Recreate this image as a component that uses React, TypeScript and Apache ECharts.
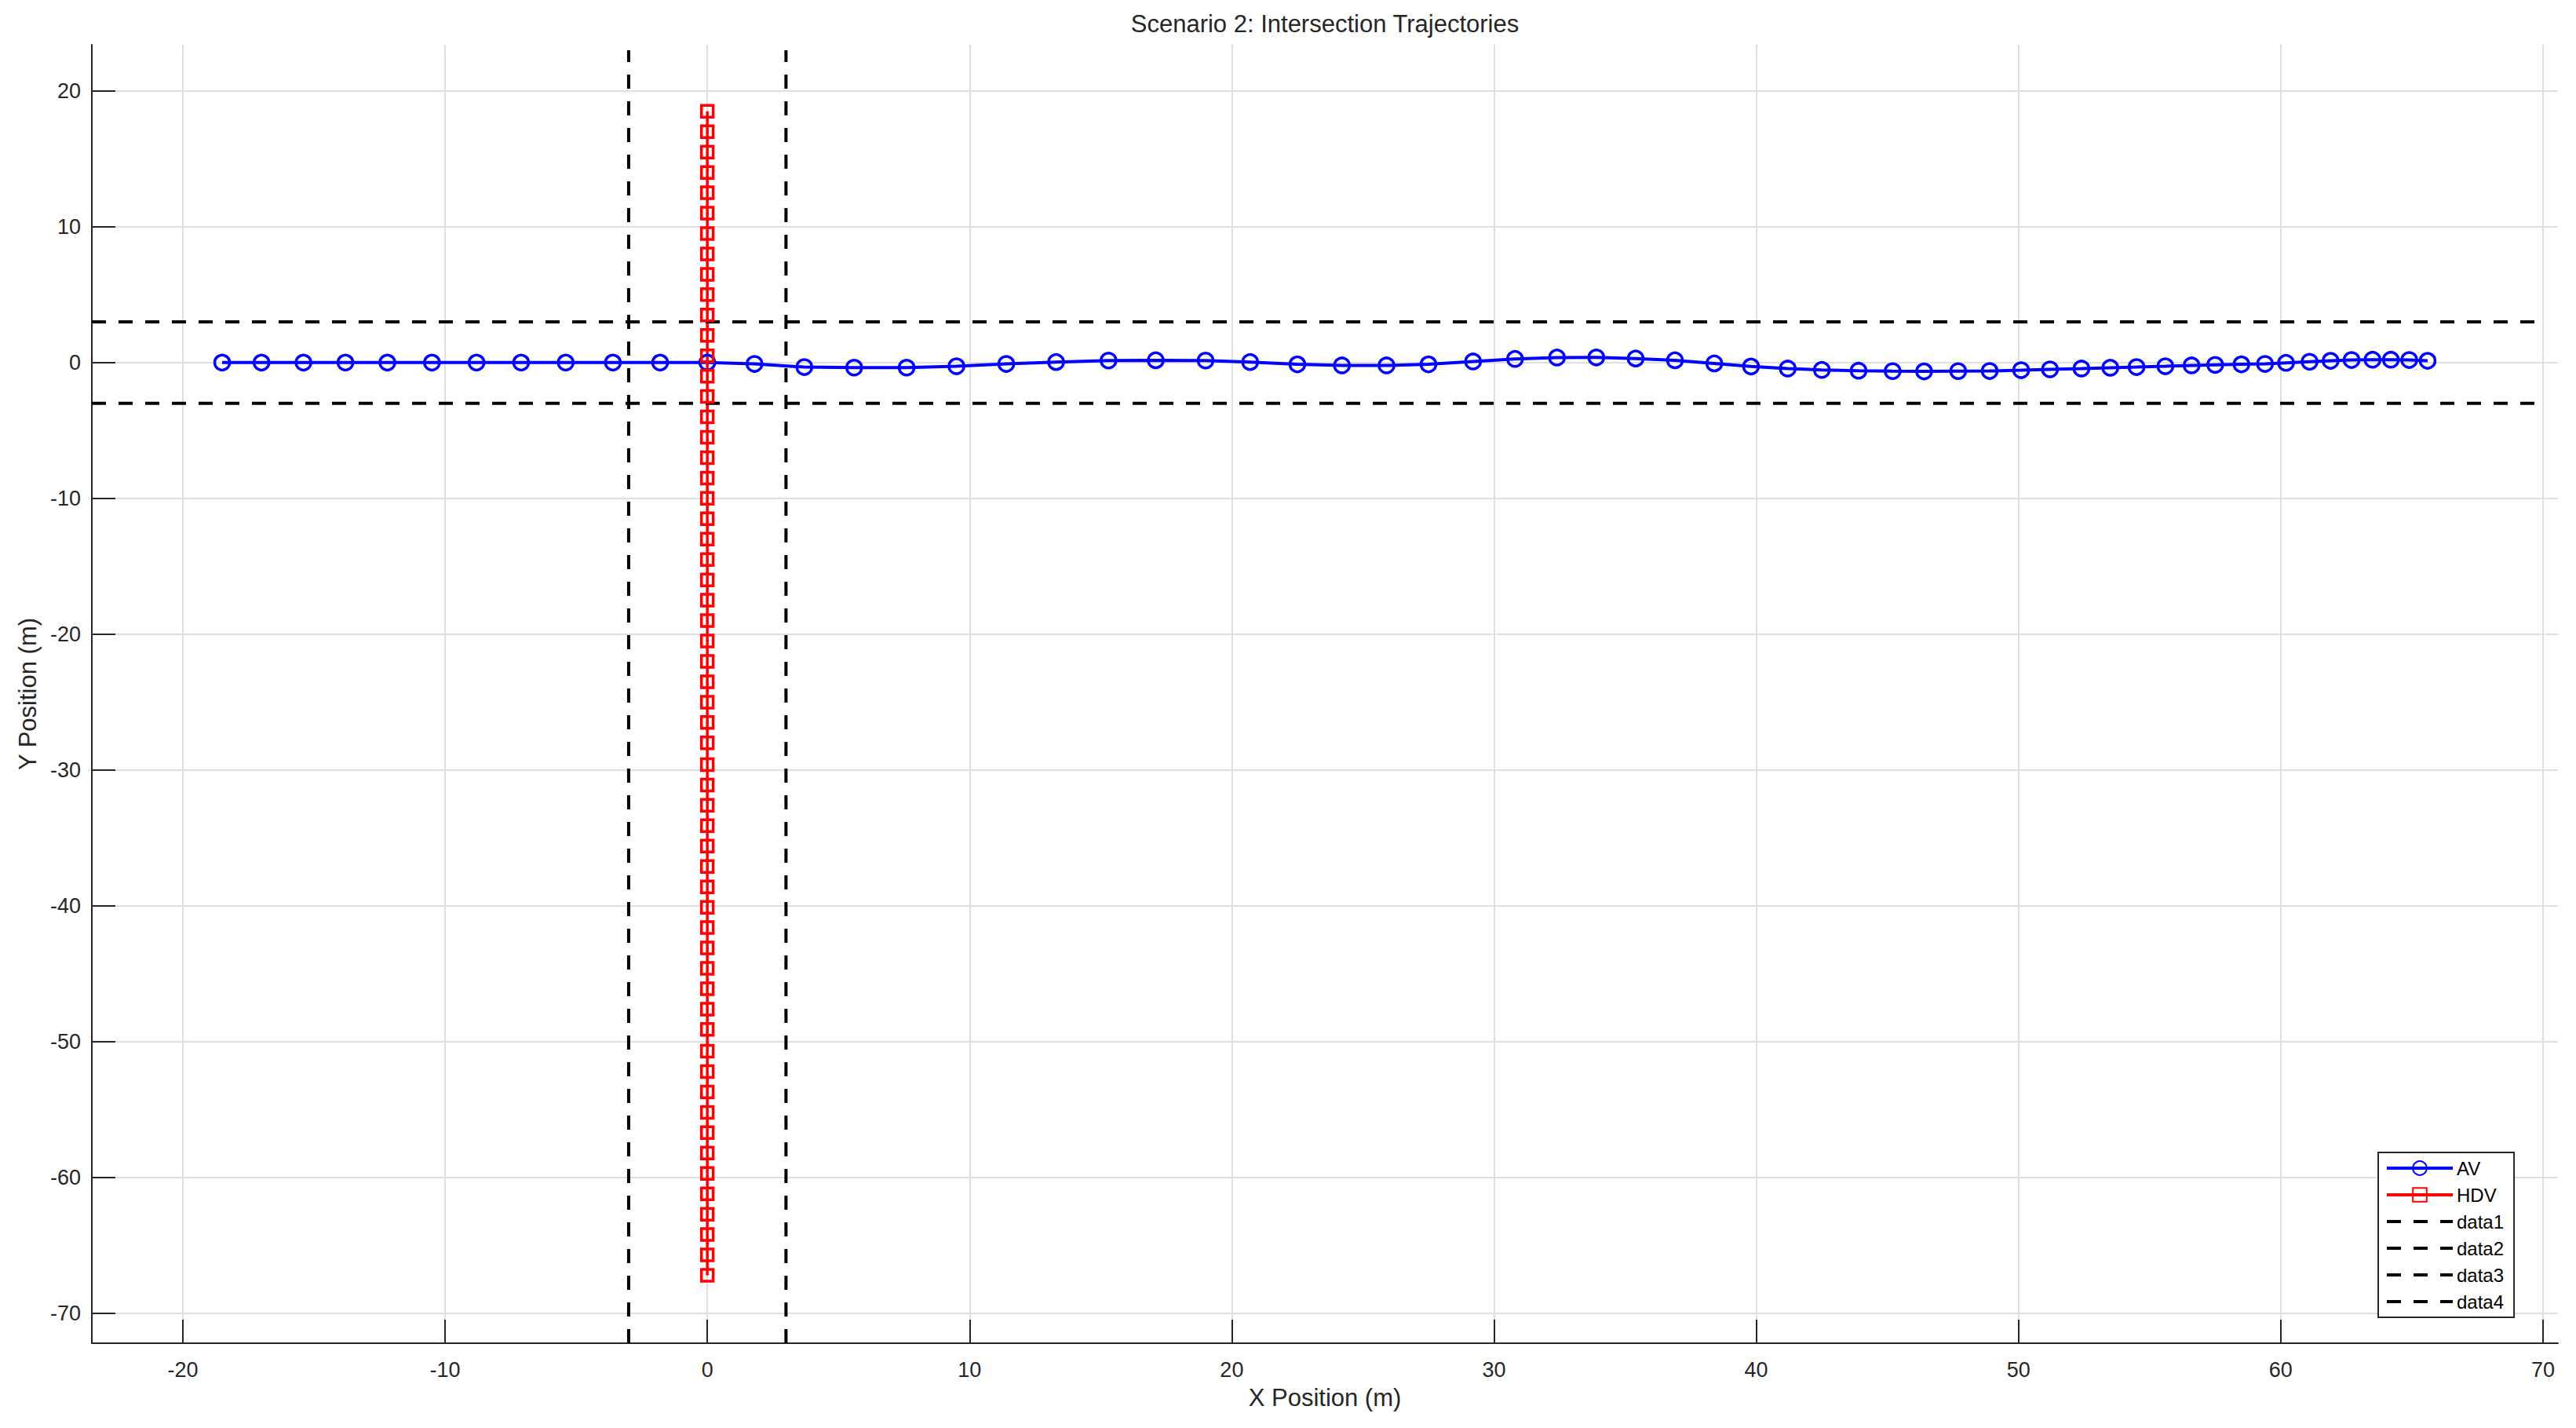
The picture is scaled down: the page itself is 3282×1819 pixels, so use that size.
import React, { useEffect, useRef } from "react";
import * as echarts from "echarts";

// ---- data ----
const avX = [
  -18.5, -17.0, -15.4, -13.8, -12.2, -10.5, -8.8, -7.1, -5.4, -3.6, -1.8, 0.0,
  1.8, 3.7, 5.6, 7.6, 9.5, 11.4, 13.3, 15.3, 17.1, 19.0,
  20.7, 22.5, 24.2, 25.9, 27.5, 29.2, 30.8, 32.4, 33.9, 35.4,
  36.9, 38.4, 39.8, 41.2, 42.5, 43.9, 45.2, 46.4, 47.7, 48.9,
  50.1, 51.2, 52.4, 53.5, 54.5, 55.6, 56.6, 57.5, 58.5, 59.4,
  60.2, 61.1, 61.9, 62.7, 63.5, 64.2, 64.9, 65.6,
];
const avY = [
  0, 0, 0, 0, 0, 0, 0, 0, 0, 0, 0, 0,
  -0.1, -0.33, -0.37, -0.37, -0.27, -0.1, 0.04, 0.15, 0.17, 0.15,
  0.04, -0.13, -0.21, -0.21, -0.13, 0.08, 0.27, 0.37, 0.38, 0.3,
  0.17, -0.06, -0.29, -0.44, -0.54, -0.6, -0.63, -0.65, -0.63, -0.62,
  -0.56, -0.5, -0.44, -0.38, -0.33, -0.27, -0.21, -0.17, -0.13, -0.1,
  -0.02, 0.06, 0.13, 0.19, 0.21, 0.21, 0.19, 0.13,
];
const hdvXValue = 0;
const hdvY = [
  18.5, 17.0, 15.5, 14.0, 12.5, 11.0, 9.5, 8.0, 6.5, 5.0, 3.5, 2.0, 0.5, -1.0,
  -2.5, -4.0, -5.5, -7.0, -8.5, -10.0, -11.5, -13.0, -14.5, -16.0, -17.5, -19.0,
  -20.5, -22.0, -23.5, -25.0, -26.5, -28.0, -29.6, -31.1, -32.6, -34.1, -35.6,
  -37.1, -38.6, -40.1, -41.6, -43.1, -44.6, -46.1, -47.6, -49.1, -50.7, -52.2,
  -53.7, -55.2, -56.7, -58.2, -59.7, -61.2, -62.7, -64.2, -65.7, -67.2,
];
const xTicks = [-20, -10, 0, 10, 20, 30, 40, 50, 60, 70];
const yTicks = [-70, -60, -50, -40, -30, -20, -10, 0, 10, 20];
const laneX = [-3, 3]; // vertical dashed lines
const laneY = [-3, 3]; // horizontal dashed lines
const X_MIN = -23.47;
const X_MAX = 70.57;
const Y_MIN = -72.2;
const Y_MAX = 23.4;
const H_LINE_END = 70;
const V_LINE_TOP = 23;
const legendNames = ["AV", "HDV", "data1", "data2", "data3", "data4"];

const FONT = "'Liberation Sans', Arial, Helvetica, sans-serif";
const TEXT = "#262626";

export default function App() {
  const ref = useRef<HTMLDivElement>(null);
  useEffect(() => {
    if (!ref.current) return;
    const chart = echarts.init(ref.current, null, { renderer: "svg" });
    const dashStyle = { color: "#000", width: 4, type: [18, 16] as any };
    const dashed = [
      { name: "data1", data: [[laneX[0], Y_MIN], [laneX[0], V_LINE_TOP]] },
      { name: "data2", data: [[laneX[1], Y_MIN], [laneX[1], V_LINE_TOP]] },
      { name: "data3", data: [[X_MIN, laneY[1]], [H_LINE_END, laneY[1]]] },
      { name: "data4", data: [[X_MIN, laneY[0]], [H_LINE_END, laneY[0]]] },
    ].map((d) => ({
      type: "line",
      name: d.name,
      data: d.data,
      symbol: "none",
      showSymbol: false,
      lineStyle: dashStyle,
      itemStyle: { color: "rgba(0,0,0,0)", borderWidth: 0 },
      silent: true,
    }));
    const option: any = {
      animation: false,
      backgroundColor: "#ffffff",
      textStyle: { fontFamily: FONT },
      grid: { left: 117, top: 57, width: 3142, height: 1654, containLabel: false },
      graphic: [
        {
          type: "text",
          x: 1688,
          y: 30,
          style: {
            text: "Scenario 2: Intersection Trajectories",
            font: `31px ${FONT}`,
            fill: TEXT,
            textAlign: "center",
            textVerticalAlign: "middle",
          },
        },
      ],
      legend: {
        orient: "vertical",
        left: 3030,
        top: 1468,
        padding: [8, 13, 8, 9],
        itemGap: 10,
        itemWidth: 84,
        itemHeight: 22,
        backgroundColor: "#ffffff",
        borderColor: "#262626",
        borderWidth: 2,
        borderRadius: 0,
        lineStyle: { width: 4 },
        textStyle: { fontSize: 24, color: "#000", fontFamily: FONT },
        data: legendNames,
      },
      xAxis: {
        type: "value",
        min: X_MIN,
        max: X_MAX,
        splitNumber: 9,
        name: "X Position (m)",
        nameLocation: "middle",
        nameGap: 54,
        nameTextStyle: { fontSize: 31, color: TEXT, fontFamily: FONT },
        axisLine: { onZero: false, lineStyle: { color: TEXT, width: 2 } },
        axisTick: { inside: true, length: 30, customValues: xTicks, lineStyle: { color: TEXT, width: 2 } },
        axisLabel: { customValues: xTicks, fontSize: 27, color: TEXT, fontFamily: FONT, margin: 20 },
        splitLine: { show: true, lineStyle: { color: "#dfdfdf", width: 2 } },
      },
      yAxis: {
        type: "value",
        min: Y_MIN,
        max: Y_MAX,
        splitNumber: 10,
        name: "Y Position (m)",
        nameLocation: "middle",
        nameRotate: 90,
        nameGap: 66,
        nameTextStyle: { fontSize: 31, color: TEXT, fontFamily: FONT },
        axisLine: { onZero: false, lineStyle: { color: TEXT, width: 2 } },
        axisTick: { inside: true, length: 30, customValues: yTicks, lineStyle: { color: TEXT, width: 2 } },
        axisLabel: { customValues: yTicks, fontSize: 27, color: TEXT, fontFamily: FONT, margin: 14 },
        splitLine: { show: true, lineStyle: { color: "#dfdfdf", width: 2 } },
      },
      series: [
        {
          type: "line",
          name: "AV",
          data: avX.map((x, i) => [x, avY[i]]),
          symbol: "circle",
          symbolSize: 19,
          showAllSymbol: true,
          itemStyle: { color: "rgba(255,255,255,0)", borderColor: "#0000ff", borderWidth: 3.5 },
          lineStyle: { color: "#0000ff", width: 4 },
          silent: true,
        },
        {
          type: "line",
          name: "HDV",
          data: hdvY.map((y) => [hdvXValue, y]),
          symbol: "rect",
          symbolSize: 15,
          showAllSymbol: true,
          itemStyle: { color: "rgba(255,255,255,0)", borderColor: "#ff0000", borderWidth: 3.5 },
          lineStyle: { color: "#ff0000", width: 3.5 },
          silent: true,
        },
        ...dashed,
      ],
    };
    chart.setOption(option);
    return () => chart.dispose();
  }, []);
  return (
    <div
      ref={ref}
      style={{ position: "fixed", left: 0, top: 0, width: "3282px", height: "1819px", background: "#fff" }}
    />
  );
}
